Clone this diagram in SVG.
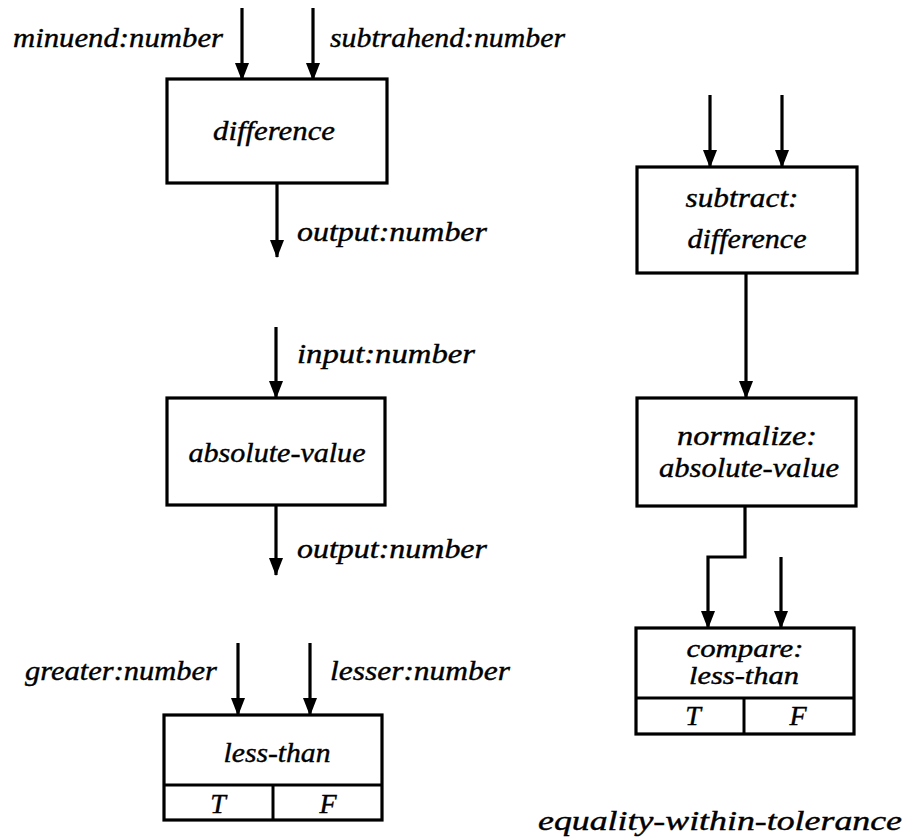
<svg xmlns="http://www.w3.org/2000/svg" width="911" height="837" viewBox="0 0 911 837">
  <style>
    .box { fill: #fff; stroke: #000; stroke-width: 3.2; }
    .div { fill: none; stroke: #000; stroke-width: 3; }
    .wire { fill: none; stroke: #000; stroke-width: 3.2; }
    text { font-family: "Liberation Serif", "DejaVu Serif", serif; font-style: italic; font-size: 28px; fill: #000; stroke: #000; stroke-width: 0.4; }
    .c { text-anchor: middle; }
    .sm { font-size: 26px; }
  </style>
  <defs>
    <marker id="ah" markerWidth="18" markerHeight="16" refX="17" refY="8" orient="auto" markerUnits="userSpaceOnUse" viewBox="0 0 18 16">
      <path d="M0,1 L18,8 L0,15 Z" fill="#000"/>
    </marker>
  </defs>
  <rect width="911" height="837" fill="#fff"/>

  <!-- connectors -->
  <g id="connectors">
    <!-- difference -->
    <line class="wire" x1="242" y1="8" x2="242" y2="80" marker-end="url(#ah)"/>
    <line class="wire" x1="313" y1="8" x2="313" y2="80" marker-end="url(#ah)"/>
    <line class="wire" x1="277" y1="183" x2="277" y2="257" marker-end="url(#ah)"/>
    <!-- absolute-value -->
    <line class="wire" x1="276" y1="327" x2="276" y2="398" marker-end="url(#ah)"/>
    <line class="wire" x1="276" y1="505" x2="276" y2="575" marker-end="url(#ah)"/>
    <!-- less-than -->
    <line class="wire" x1="238" y1="643" x2="238" y2="715" marker-end="url(#ah)"/>
    <line class="wire" x1="310" y1="643" x2="310" y2="715" marker-end="url(#ah)"/>
    <!-- equality-within-tolerance -->
    <line class="wire" x1="710" y1="95" x2="710" y2="167" marker-end="url(#ah)"/>
    <line class="wire" x1="782" y1="95" x2="782" y2="167" marker-end="url(#ah)"/>
    <line class="wire" x1="746" y1="273" x2="746" y2="398" marker-end="url(#ah)"/>
    <polyline class="wire" points="745,506 745,557 708,557 708,628" marker-end="url(#ah)"/>
    <line class="wire" x1="781" y1="557" x2="781" y2="628" marker-end="url(#ah)"/>
  </g>

  <!-- port labels -->
  <g id="labels">
    <text x="13" y="47" textLength="210" lengthAdjust="spacingAndGlyphs">minuend:number</text>
    <text x="330" y="47" textLength="235" lengthAdjust="spacingAndGlyphs">subtrahend:number</text>
    <text x="297" y="241" textLength="190" lengthAdjust="spacingAndGlyphs">output:number</text>
    <text x="297" y="363" textLength="178" lengthAdjust="spacingAndGlyphs">input:number</text>
    <text x="297" y="558" textLength="190" lengthAdjust="spacingAndGlyphs">output:number</text>
    <text x="25" y="680" textLength="192" lengthAdjust="spacingAndGlyphs">greater:number</text>
    <text x="330" y="680" textLength="180" lengthAdjust="spacingAndGlyphs">lesser:number</text>
  </g>

  <g id="difference">
    <rect class="box" x="167" y="79" width="220" height="104"/>
    <text class="c" x="274" y="140" textLength="122" lengthAdjust="spacingAndGlyphs">difference</text>
  </g>

  <g id="absolute-value">
    <rect class="box" x="167" y="398" width="218" height="107"/>
    <text class="c" x="277" y="462" textLength="177" lengthAdjust="spacingAndGlyphs">absolute-value</text>
  </g>

  <g id="less-than">
    <rect class="box" x="164" y="715" width="218" height="105"/>
    <line class="div" x1="164" y1="785" x2="382" y2="785"/>
    <line class="div" x1="273" y1="785" x2="273" y2="820"/>
    <text class="c" x="277" y="762" textLength="107" lengthAdjust="spacingAndGlyphs">less-than</text>
    <text class="c" x="218" y="813">T</text>
    <text class="c" x="328" y="813">F</text>
  </g>

  <g id="subtract">
    <rect class="box" x="637" y="167" width="220" height="106"/>
    <text class="c" x="742" y="207" textLength="113" lengthAdjust="spacingAndGlyphs">subtract:</text>
    <text class="c" x="747" y="248" textLength="119" lengthAdjust="spacingAndGlyphs">difference</text>
  </g>

  <g id="normalize">
    <rect class="box" x="637" y="398" width="219" height="108"/>
    <text class="c" x="747" y="445" textLength="140" lengthAdjust="spacingAndGlyphs">normalize:</text>
    <text class="c" x="749" y="477" textLength="180" lengthAdjust="spacingAndGlyphs">absolute-value</text>
  </g>

  <g id="compare">
    <rect class="box" x="636" y="628" width="218" height="106"/>
    <line class="div" x1="636" y1="698" x2="854" y2="698"/>
    <line class="div" x1="744" y1="698" x2="744" y2="734"/>
    <text class="c sm" x="745" y="657" textLength="117" lengthAdjust="spacingAndGlyphs">compare:</text>
    <text class="c sm" x="744" y="684" textLength="110" lengthAdjust="spacingAndGlyphs">less-than</text>
    <text class="c" x="693" y="725">T</text>
    <text class="c" x="798" y="725">F</text>
  </g>

  <g id="title">
    <text x="538" y="830" textLength="364" lengthAdjust="spacingAndGlyphs">equality-within-tolerance</text>
  </g>
</svg>
